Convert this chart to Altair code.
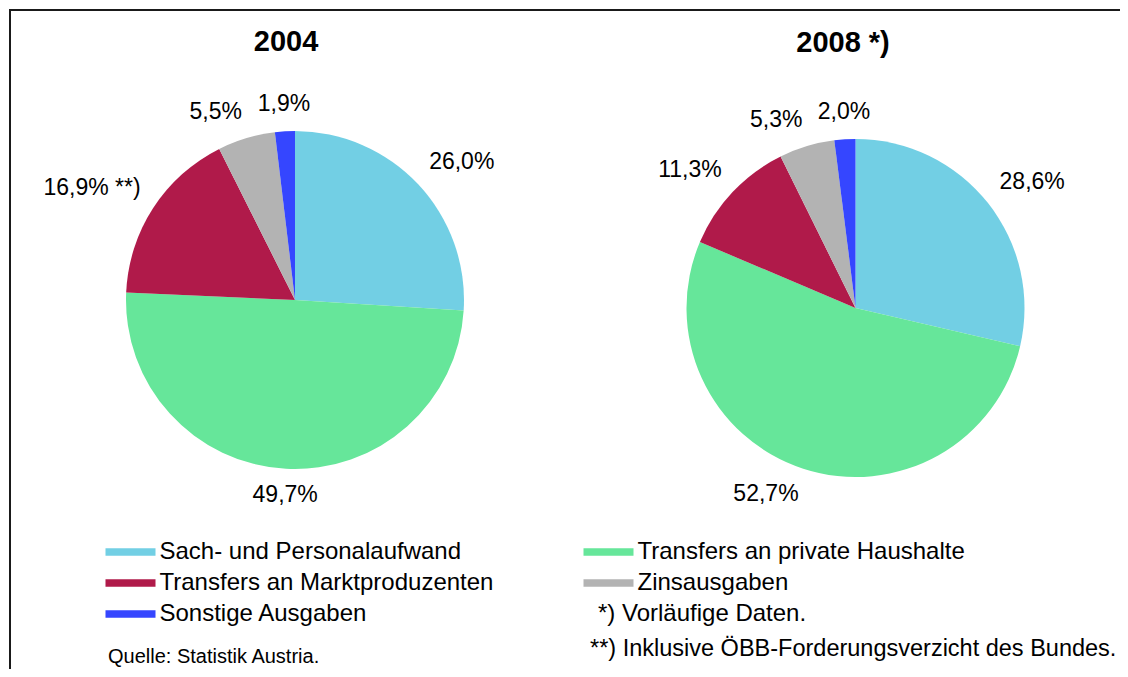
import altair as alt
import pandas as pd

# ---- data ----
years = ["2004", "2008"]
titles = ["2004", "2008 *)"]
categories = [
    "Sach- und Personalaufwand",
    "Transfers an private Haushalte",
    "Transfers an Marktproduzenten",
    "Zinsausgaben",
    "Sonstige Ausgaben",
]
values_2004 = [26.0, 49.7, 16.9, 5.5, 1.9]
values_2008 = [28.6, 52.7, 11.3, 5.3, 2.0]
notes_2004 = ["", "", " **)", "", ""]
notes_2008 = ["", "", "", "", ""]
colors = ["#72CFE4", "#66E69A", "#B01A4A", "#B3B3B3", "#3546FF"]
legend_col = [0, 1, 0, 1, 0]
legend_row = [0, 0, 1, 1, 2]
footnotes = ["*) Vorläufige Daten.", "**) Inklusive ÖBB-Forderungsverzicht des Bundes."]
source_note = "Quelle: Statistik Austria."

FONT = "Liberation Sans"

rows = []
for yr, vals, notes in [(years[0], values_2004, notes_2004), (years[1], values_2008, notes_2008)]:
    for i, (c, v, n) in enumerate(zip(categories, vals, notes)):
        rows.append({"year": yr, "cat": c, "value": v, "note": n, "order": i})
df = pd.DataFrame(rows)

legend_df = pd.DataFrame({"cat": categories, "col": legend_col, "row": legend_row})

color_scale = alt.Scale(domain=categories, range=colors)


def pie(year, cx, cy):
    base = alt.Chart(df).transform_filter(alt.datum.year == year)
    arcs = base.mark_arc(radius=169).encode(
        theta=alt.Theta("value:Q", stack=True),
        color=alt.Color("cat:N", scale=color_scale, legend=None),
        order=alt.Order("order:Q"),
        x=alt.value(cx),
        y=alt.value(cy),
    )
    labels = (
        base.transform_joinaggregate(total="sum(value)")
        .transform_window(cum="sum(value)", sort=[alt.SortField("order")], frame=[None, 0])
        .transform_calculate(
            mid="2*PI*(datum.cum - datum.value/2)/datum.total",
            label="replace(format(datum.value, '.1f'), '.', ',') + '%' + datum.note",
        )
        .mark_text(
            radius=184,
            font=FONT,
            fontSize=23,
            color="#000000",
            align=alt.expr(
                "sin(datum.mid) > 0.25 ? 'left' : (sin(datum.mid) < -0.25 ? 'right' : 'center')"
            ),
            baseline=alt.expr(
                "cos(datum.mid) > 0.3 ? 'bottom' : (cos(datum.mid) < -0.3 ? 'top' : 'middle')"
            ),
        )
        .encode(
            theta=alt.Theta("value:Q", stack=True),
            order=alt.Order("order:Q"),
            text="label:N",
            x=alt.value(cx),
            y=alt.value(cy),
        )
    )
    return arcs, labels


arcs04, labels04 = pie(years[0], 286, 291)
arcs08, labels08 = pie(years[1], 846.5, 299)

title04 = alt.Chart(pd.DataFrame({"t": [titles[0]]})).mark_text(
    font=FONT, fontSize=29, fontWeight="bold", align="center", baseline="middle"
).encode(text="t:N", x=alt.value(277), y=alt.value(33))
title08 = alt.Chart(pd.DataFrame({"t": [titles[1]]})).mark_text(
    font=FONT, fontSize=29, fontWeight="bold", align="center", baseline="middle"
).encode(text="t:N", x=alt.value(834), y=alt.value(34))

xs = alt.X("col:Q", scale=alt.Scale(domain=[0, 1], range=[121.5, 599.5], nice=False, zero=False), axis=None)
ys = alt.Y("row:Q", scale=alt.Scale(domain=[0, 2], range=[543, 605], nice=False, zero=False), axis=None)

leg_sym = alt.Chart(legend_df).mark_point(
    shape="M-1,-0.15L1,-0.15L1,0.15L-1,0.15Z", size=2500, filled=True, opacity=1, strokeWidth=0
).encode(x=xs, y=ys, color=alt.Color("cat:N", scale=color_scale, legend=None))
leg_txt = alt.Chart(legend_df).mark_text(
    font=FONT, fontSize=24, align="left", baseline="middle", dx=29, color="#000000"
).encode(x=xs, y=ys, text="cat:N")

foot1 = alt.Chart(pd.DataFrame({"t": [footnotes[0]]})).mark_text(
    font=FONT, fontSize=24, align="left", baseline="middle"
).encode(text="t:N", x=alt.value(589), y=alt.value(605))
foot2 = alt.Chart(pd.DataFrame({"t": [footnotes[1]]})).mark_text(
    font=FONT, fontSize=23.5, align="left", baseline="middle"
).encode(text="t:N", x=alt.value(581), y=alt.value(640))
src = alt.Chart(pd.DataFrame({"t": [source_note]})).mark_text(
    font=FONT, fontSize=20, align="left", baseline="middle"
).encode(text="t:N", x=alt.value(99), y=alt.value(648))

frame_top = alt.Chart(pd.DataFrame({"a": [0]})).mark_rule(color="#1a1a1a", strokeWidth=2).encode(
    x=alt.value(0), x2=alt.value(1112), y=alt.value(1)
)
frame_left = alt.Chart(pd.DataFrame({"a": [0]})).mark_rule(color="#1a1a1a", strokeWidth=2).encode(
    x=alt.value(1), y=alt.value(0), y2=alt.value(661)
)

chart = (
    alt.layer(
        arcs04, labels04, arcs08, labels08, title04, title08,
        leg_sym, leg_txt, foot1, foot2, src, frame_top, frame_left,
    )
    .resolve_scale(theta="independent")
    .properties(
        width=1112,
        height=661,
        padding=0,
        autosize=alt.AutoSizeParams(type="fit", contains="padding"),
        background="white",
    )
    .configure_view(stroke="transparent", strokeWidth=0)
)

chart.save("out.html", embed_options={"renderer": "svg", "actions": False})
